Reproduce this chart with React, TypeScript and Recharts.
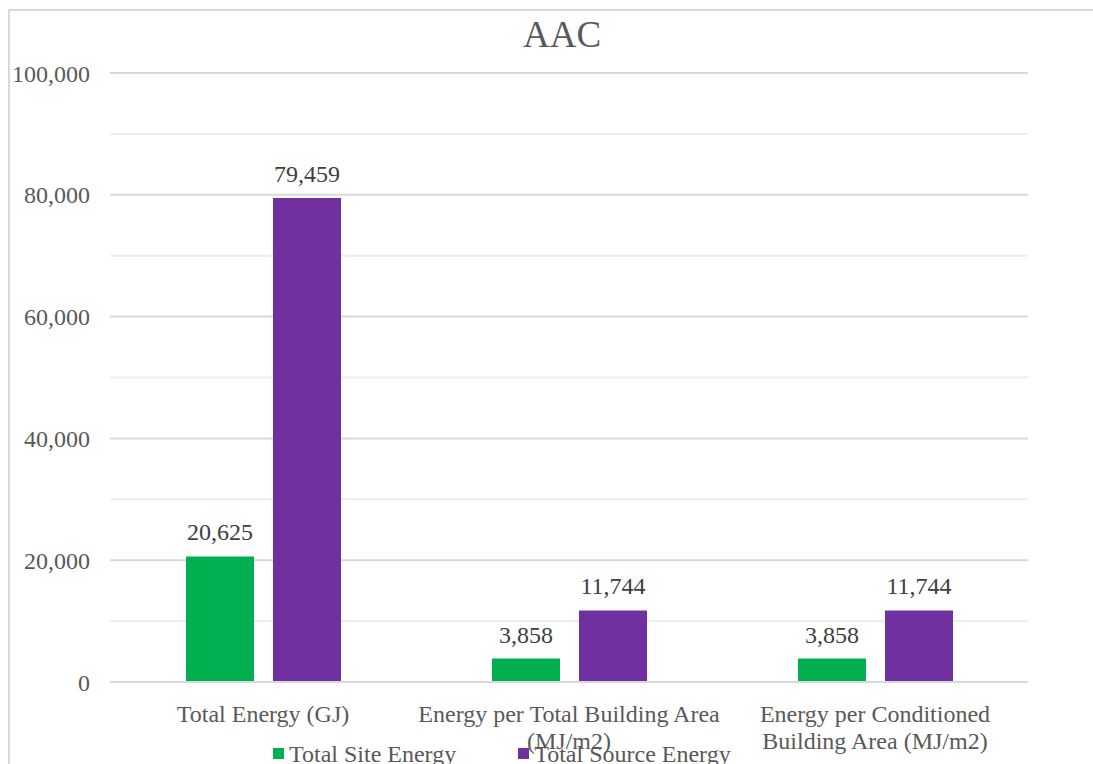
import { BarChart, Bar, XAxis, YAxis, CartesianGrid, LabelList, Legend } from 'recharts'

const CATEGORIES = [
  'Total Energy (GJ)',
  'Energy per Total Building Area (MJ/m2)',
  'Energy per Conditioned Building Area (MJ/m2)',
]
const SITE_ENERGY = [20625, 3858, 3858]
const SOURCE_ENERGY = [79459, 11744, 11744]
const Y_TICKS = [0, 20000, 40000, 60000, 80000, 100000]
const MINOR_LINES = [10000, 30000, 50000, 70000, 90000]

const data = CATEGORIES.map((name, i) => ({
  name,
  site: SITE_ENERGY[i],
  source: SOURCE_ENERGY[i],
}))

const FONT = "'Liberation Serif', 'Times New Roman', serif"
const fmt = (v: number) => v.toLocaleString('en-US')

// crude word wrap, excel breaks these labels at roughly 30 chars
function wrap(text: string, max: number) {
  const lines: string[] = []
  let cur = ''
  for (const w of text.split(' ')) {
    const next = cur ? cur + ' ' + w : w
    if (next.length > max && cur) {
      lines.push(cur)
      cur = w
    } else {
      cur = next
    }
  }
  if (cur) lines.push(cur)
  return lines
}

function CategoryTick({ x, y, payload }: any) {
  const lines = wrap(payload.value, 30)
  return (
    <text x={x} y={y} textAnchor="middle" fill="#595959" fontSize={24} fontFamily={FONT}>
      {lines.map((l, i) => (
        <tspan key={i} x={x} dy={i === 0 ? 38 : 27}>
          {l}
        </tspan>
      ))}
    </text>
  )
}

function LegendContent({ payload }: any) {
  return (
    <div style={{ display: 'flex', alignItems: 'center', fontFamily: FONT, fontSize: 24, lineHeight: '24px', color: '#595959', whiteSpace: 'nowrap' }}>
      {(payload || []).map((p: any, i: number) => (
        <div key={i} style={{ display: 'flex', alignItems: 'center', marginRight: i === 0 ? 62 : 0 }}>
          <span style={{ width: 11, height: 11, background: p.color, marginRight: 5, position: 'relative', top: -1 }} />
          <span>{p.value}</span>
        </div>
      ))}
    </div>
  )
}

export default function App() {
  return (
    <div
      style={{
        position: 'fixed',
        left: 8,
        top: 9,
        width: 1085,
        height: 755,
        boxSizing: 'border-box',
        borderLeft: '2px solid #d9d9d9',
        borderTop: '2px solid #d9d9d9',
        overflow: 'hidden',
        background: '#fff',
      }}
    >
      <div style={{ position: 'absolute', left: -10, top: -11, width: 1093, height: 764 }}>
        <div
          style={{
            position: 'absolute',
            left: 462,
            top: 16,
            width: 200,
            textAlign: 'center',
            fontFamily: FONT,
            fontSize: 37,
            lineHeight: '37px',
            color: '#595959',
          }}
        >
          AAC
        </div>
        <BarChart
          width={1093}
          height={764}
          data={data}
          margin={{ top: 73, right: 65, bottom: 0, left: 0 }}
          barSize={68}
          barGap={19}
        >
          {/* minor lines first so the major ones sit on top */}
          <CartesianGrid vertical={false} horizontalValues={MINOR_LINES} stroke="#eeeeee" strokeWidth={2} />
          <CartesianGrid vertical={false} stroke="#d9d9d9" strokeWidth={2} />
          <XAxis
            dataKey="name"
            height={82}
            tick={<CategoryTick />}
            tickLine={false}
            tickSize={0}
            interval={0}
            axisLine={{ stroke: '#d9d9d9', strokeWidth: 2 }}
          />
          <YAxis
            width={110}
            domain={[0, 100000]}
            ticks={Y_TICKS}
            tickFormatter={fmt}
            axisLine={false}
            tickLine={false}
            tickSize={0}
            tickMargin={20}
            tick={{ fill: '#595959', fontSize: 24, fontFamily: FONT }}
          />
          <Legend
            layout="horizontal"
            verticalAlign="middle"
            align="center"
            content={<LegendContent />}
            wrapperStyle={{ left: 273, top: 742, width: 700, height: 24 }}
          />
          <Bar dataKey="site" name="Total Site Energy" fill="#00b050" isAnimationActive={false}>
            <LabelList dataKey="site" position="top" offset={16} formatter={fmt} fill="#404040" fontSize={24} fontFamily={FONT} />
          </Bar>
          <Bar dataKey="source" name="Total Source Energy" fill="#7030a0" isAnimationActive={false}>
            <LabelList dataKey="source" position="top" offset={16} formatter={fmt} fill="#404040" fontSize={24} fontFamily={FONT} />
          </Bar>
        </BarChart>
      </div>
    </div>
  )
}
